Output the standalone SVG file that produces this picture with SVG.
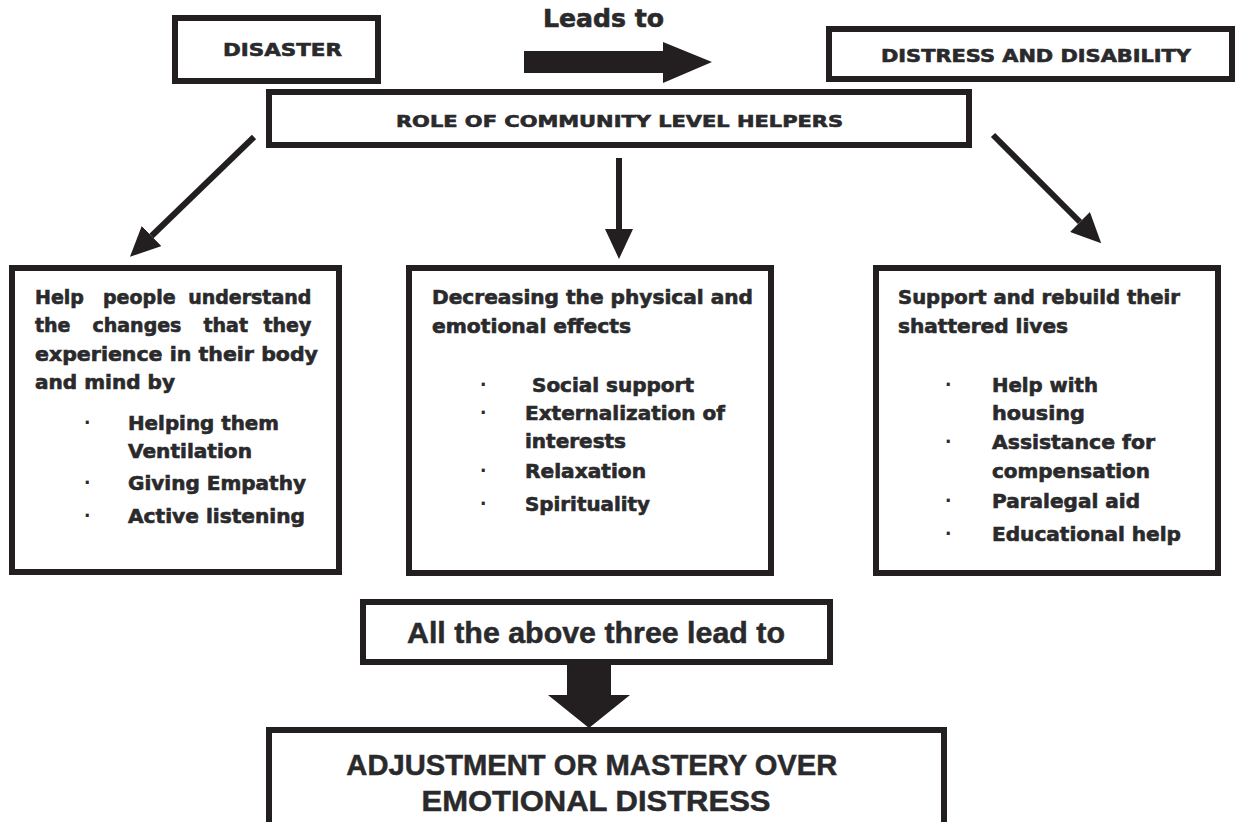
<svg xmlns="http://www.w3.org/2000/svg" width="1240" height="822" viewBox="0 0 1240 822">
<style>
.box{fill:#fff;stroke:#231f20;stroke-width:6}
.w{font-family:"DejaVu Sans",Verdana,sans-serif;font-weight:bold;fill:#2a2a2c;stroke:#2a2a2c;stroke-width:0.6}
.n{font-family:"Liberation Sans",Arial,sans-serif;font-weight:bold;fill:#2a2a2c;stroke:#2a2a2c;stroke-width:0.5}
.conn{stroke:#231f20;stroke-width:6;fill:none}
.solid{fill:#231f20}
.b{font-family:"DejaVu Sans",sans-serif;font-size:17px;font-weight:bold;fill:#2a2a2c}
</style>
<defs>
<marker id="ah" viewBox="0 0 30 28" refX="0" refY="14" markerWidth="30" markerHeight="28" markerUnits="userSpaceOnUse" orient="auto">
<path d="M0,0 L30,14 L0,28 z" fill="#231f20"/>
</marker>
</defs>
<rect width="1240" height="822" fill="#fff"/>

<g id="disaster">
<rect class="box" x="175" y="18" width="203" height="63"/>
<text class="w" x="223" y="56" font-size="18" textLength="119" lengthAdjust="spacingAndGlyphs">DISASTER</text>
</g>

<g id="distress">
<rect class="box" x="829" y="29" width="403" height="50"/>
<text class="w" x="881" y="62" font-size="17" textLength="310" lengthAdjust="spacingAndGlyphs">DISTRESS AND DISABILITY</text>
</g>

<g id="role">
<rect class="box" x="269" y="92" width="700" height="53"/>
<text class="w" x="396" y="127" font-size="16" textLength="447" lengthAdjust="spacingAndGlyphs">ROLE OF COMMUNITY LEVEL HELPERS</text>
</g>

<g id="understand">
<rect class="box" x="12" y="268" width="327" height="304"/>
<text class="w" font-size="19">
<tspan x="35" y="304">Help</tspan><tspan x="103" y="304">people</tspan><tspan x="318" y="304" text-anchor="end">understand</tspan>
<tspan x="35" y="332">the</tspan><tspan x="92.5" y="332">changes</tspan><tspan x="203.5" y="332">that</tspan><tspan x="318" y="332" text-anchor="end">they</tspan>
<tspan x="35" y="361" textLength="283" lengthAdjust="spacingAndGlyphs">experience in their body</tspan>
<tspan x="35" y="389" textLength="140" lengthAdjust="spacingAndGlyphs">and mind by</tspan>
</text>
<text class="w" font-size="19">
<tspan x="128" y="430" textLength="151" lengthAdjust="spacingAndGlyphs">Helping them</tspan>
<tspan x="128" y="458" textLength="124" lengthAdjust="spacingAndGlyphs">Ventilation</tspan>
<tspan x="128" y="490" textLength="178" lengthAdjust="spacingAndGlyphs">Giving Empathy</tspan>
<tspan x="128" y="523" textLength="177" lengthAdjust="spacingAndGlyphs">Active listening</tspan>
</text>
<text class="b"><tspan x="84" y="429">·</tspan><tspan x="84" y="489">·</tspan><tspan x="84" y="522">·</tspan></text>
</g>

<g id="decreasing">
<rect class="box" x="409" y="268" width="362" height="305"/>
<text class="w" font-size="19">
<tspan x="432" y="304" textLength="321" lengthAdjust="spacingAndGlyphs">Decreasing the physical and</tspan>
<tspan x="432" y="333" textLength="199" lengthAdjust="spacingAndGlyphs">emotional effects</tspan>
<tspan x="532" y="392" textLength="162" lengthAdjust="spacingAndGlyphs">Social support</tspan>
<tspan x="525" y="420" textLength="200" lengthAdjust="spacingAndGlyphs">Externalization of</tspan>
<tspan x="525" y="448" textLength="101" lengthAdjust="spacingAndGlyphs">interests</tspan>
<tspan x="525" y="478" textLength="121" lengthAdjust="spacingAndGlyphs">Relaxation</tspan>
<tspan x="525" y="511" textLength="125" lengthAdjust="spacingAndGlyphs">Spirituality</tspan>
</text>
<text class="b"><tspan x="480" y="391">·</tspan><tspan x="480" y="419">·</tspan><tspan x="480" y="477">·</tspan><tspan x="480" y="510">·</tspan></text>
</g>

<g id="support">
<rect class="box" x="876" y="268" width="342" height="305"/>
<text class="w" font-size="19">
<tspan x="898" y="304" textLength="282" lengthAdjust="spacingAndGlyphs">Support and rebuild their</tspan>
<tspan x="898" y="333" textLength="170" lengthAdjust="spacingAndGlyphs">shattered lives</tspan>
<tspan x="992" y="392" textLength="106" lengthAdjust="spacingAndGlyphs">Help with</tspan>
<tspan x="992" y="420" textLength="93" lengthAdjust="spacingAndGlyphs">housing</tspan>
<tspan x="992" y="449" textLength="163" lengthAdjust="spacingAndGlyphs">Assistance for</tspan>
<tspan x="992" y="478" textLength="158" lengthAdjust="spacingAndGlyphs">compensation</tspan>
<tspan x="992" y="508" textLength="148" lengthAdjust="spacingAndGlyphs">Paralegal aid</tspan>
<tspan x="992" y="541" textLength="189" lengthAdjust="spacingAndGlyphs">Educational help</tspan>
</text>
<text class="b"><tspan x="945" y="391">·</tspan><tspan x="945" y="448">·</tspan><tspan x="945" y="507">·</tspan><tspan x="945" y="540">·</tspan></text>
</g>

<g id="allabove">
<rect class="box" x="363" y="602" width="467" height="60"/>
<text class="n" x="407" y="643" font-size="29" textLength="378" lengthAdjust="spacingAndGlyphs">All the above three lead to</text>
</g>

<g id="adjustment">
<rect class="box" x="269" y="730" width="675" height="100"/>
<text class="n" font-size="30" text-anchor="middle">
<tspan x="596" y="775" textLength="491" lengthAdjust="spacingAndGlyphs">ADJUSTMENT OR MASTERY OVER</tspan>
<tspan x="596" y="811" textLength="349" lengthAdjust="spacingAndGlyphs">EMOTIONAL DISTRESS</tspan>
</text>
</g>

<g id="connectors">
<text class="w" x="543" y="27" font-size="24" textLength="121" lengthAdjust="spacingAndGlyphs">Leads to</text>
<path class="solid" d="M524,51 L663,51 L663,42 L712,62 L663,83 L663,73 L524,73 z"/>
<line class="conn" x1="254" y1="137" x2="151.5" y2="236" marker-end="url(#ah)"/>
<line class="conn" x1="619" y1="158" x2="619" y2="229" marker-end="url(#ah)"/>
<line class="conn" x1="993" y1="135" x2="1080" y2="222" marker-end="url(#ah)"/>
<path class="solid" d="M567,662 L611,662 L611,695 L630,695 L589,728 L548,695 L567,695 z"/>
</g>
</svg>
